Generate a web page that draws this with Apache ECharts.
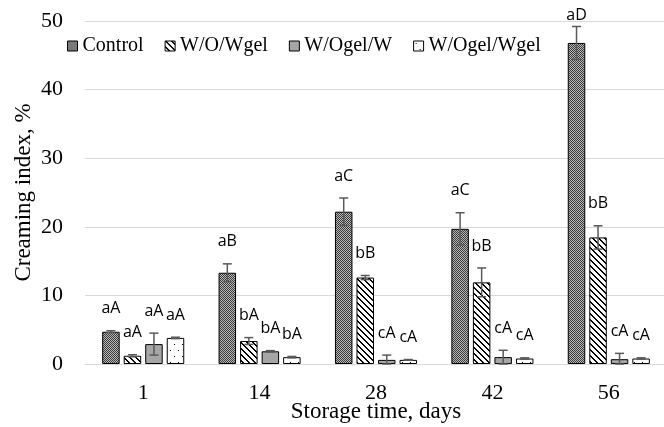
<!DOCTYPE html>
<html>
<head>
<meta charset="utf-8">
<script src="https://cdn.jsdelivr.net/npm/echarts@6/dist/echarts.min.js"></script>
<style>
html,body{margin:0;padding:0;background:#fff;}
#chart{width:664px;height:427px;}
</style>
</head>
<body>
<div id="chart"></div>
<script>
// ---- data ----
const categories = ['1', '14', '28', '42', '56'];
const seriesNames = ['Control', 'W/O/Wgel', 'W/Ogel/W', 'W/Ogel/Wgel'];

const controlValues   = [4.7, 13.3, 22.2, 19.7, 46.8];
const controlErrors   = [0.15, 1.3, 2.0, 2.35, 2.4];
const wowValues       = [1.2, 3.35, 12.6, 11.9, 18.45];
const wowErrors       = [0.15, 0.5, 0.3, 2.1, 1.7];
const wogelwValues    = [2.9, 1.85, 0.6, 1.0, 0.7];
const wogelwErrors    = [1.6, 0.1, 0.7, 1.0, 0.85];
const wogelwgelValues = [3.8, 1.0, 0.6, 0.8, 0.8];
const wogelwgelErrors = [0.1, 0.1, 0.05, 0.1, 0.1];

const controlLabels   = ['aA', 'aB', 'aC', 'aC', 'aD'];
const wowLabels       = ['aA', 'bA', 'bB', 'bB', 'bB'];
const wogelwLabels    = ['aA', 'bA', 'cA', 'cA', 'cA'];
const wogelwgelLabels = ['aA', 'bA', 'cA', 'cA', 'cA'];

const yTicks = { min: 0, max: 50, interval: 10 };

// ---- styling helpers ----
function makeCanvas(w, h, draw) {
  const c = document.createElement('canvas');
  c.width = w; c.height = h;
  const ctx = c.getContext('2d');
  draw(ctx, w, h);
  return c;
}
const checker = makeCanvas(2, 2, (ctx) => {
  ctx.fillStyle = '#b8b8b8'; ctx.fillRect(0, 0, 2, 2);
  ctx.fillStyle = '#3a3a3a'; ctx.fillRect(0, 0, 1, 1); ctx.fillRect(1, 1, 1, 1);
});
const stripes = makeCanvas(6, 6, (ctx, w, h) => {
  ctx.fillStyle = '#ffffff'; ctx.fillRect(0, 0, w, h);
  ctx.fillStyle = '#000000';
  for (let y = 0; y < h; y++) for (let x = 0; x < w; x++) {
    if (((x - y + w) % w) < 2) ctx.fillRect(x, y, 1, 1);
  }
});
const dots = makeCanvas(8, 12, (ctx, w, h) => {
  ctx.fillStyle = '#ffffff'; ctx.fillRect(0, 0, w, h);
  ctx.fillStyle = '#000000';
  ctx.fillRect(2, 2, 1, 1);
  ctx.fillRect(6, 8, 1, 1);
});
const fills = [
  { image: checker, repeat: 'repeat' },
  { image: stripes, repeat: 'repeat' },
  '#a6a6a6',
  { image: dots, repeat: 'repeat' }
];

const values = [controlValues, wowValues, wogelwValues, wogelwgelValues];
const errors = [controlErrors, wowErrors, wogelwErrors, wogelwgelErrors];
const labels = [controlLabels, wowLabels, wogelwLabels, wogelwgelLabels];

const BAR_W = 17.5;
const BAR_GAP = 0.23;
const STEP = BAR_W * (1 + BAR_GAP);
const SERIF = 'Liberation Serif';

const barSeries = seriesNames.map((name, s) => ({
  name: name,
  type: 'bar',
  data: values[s],
  barWidth: BAR_W,
  barGap: (BAR_GAP * 100) + '%',
  itemStyle: { color: fills[s], borderColor: '#000', borderWidth: 1 },
  z: 2
}));

const errData = [];
values.forEach((arr, s) => arr.forEach((v, c) => errData.push([c, v, errors[s][c], s])));

const errSeries = {
  type: 'custom',
  data: errData,
  encode: { x: 0, y: 1 },
  z: 10,
  silent: true,
  renderItem: function (params, api) {
    const c = api.value(0), v = api.value(1), e = api.value(2), s = api.value(3);
    const x = api.coord([c, v])[0] + (s - 1.5) * STEP;
    const yTop = api.coord([c, v + e])[1];
    const yBot = api.coord([c, Math.max(v - e, 0)])[1];
    const cap = 4.5;
    const ls = { stroke: '#595959', lineWidth: 1.5 };
    return {
      type: 'group',
      children: [
        { type: 'line', shape: { x1: x, y1: yTop, x2: x, y2: yBot }, style: ls },
        { type: 'line', shape: { x1: x - cap, y1: yTop, x2: x + cap, y2: yTop }, style: ls },
        { type: 'line', shape: { x1: x - cap, y1: yBot, x2: x + cap, y2: yBot }, style: ls },
        { type: 'text', x: x, y: Math.max(yTop - 22, 15),
          style: { text: labels[s][c], fill: '#000', font: '16px "Open Sans"',
                   align: 'center', verticalAlign: 'middle' } }
      ]
    };
  }
};

const chart = echarts.init(document.getElementById('chart'), null, { renderer: 'canvas' });
chart.setOption({
  animation: false,
  backgroundColor: '#ffffff',
  grid: { left: 85, right: -3, top: 21, bottom: 63, containLabel: false, outerBoundsMode: 'none' },
  legend: {
    data: seriesNames,
    left: 62, top: 31,
    itemWidth: 10, itemHeight: 10, itemGap: 21,
    icon: 'rect',
    itemStyle: { borderWidth: 1, borderColor: '#000' },
    textStyle: { fontFamily: SERIF, fontSize: 20, color: '#000' }
  },
  xAxis: {
    type: 'category',
    data: categories,
    axisLine: { lineStyle: { color: '#d9d9d9', width: 1 } },
    axisTick: { show: false },
    axisLabel: { fontFamily: SERIF, fontSize: 22, color: '#000', margin: 18 },
    name: 'Storage time, days',
    nameLocation: 'middle',
    nameGap: 36,
    nameMoveOverlap: false,
    nameTextStyle: { fontFamily: SERIF, fontSize: 23, color: '#000' }
  },
  yAxis: {
    type: 'value',
    min: yTicks.min, max: yTicks.max, interval: yTicks.interval,
    axisLine: { show: false },
    axisTick: { show: false },
    splitLine: { lineStyle: { color: '#d9d9d9', width: 1 } },
    axisLabel: { fontFamily: SERIF, fontSize: 22, color: '#000', margin: 22 },
    name: 'Creaming index, %',
    nameLocation: 'middle',
    nameGap: 50,
    nameMoveOverlap: false,
    nameTextStyle: { fontFamily: SERIF, fontSize: 23, color: '#000' }
  },
  series: barSeries.concat([errSeries])
});
</script>
</body>
</html>
